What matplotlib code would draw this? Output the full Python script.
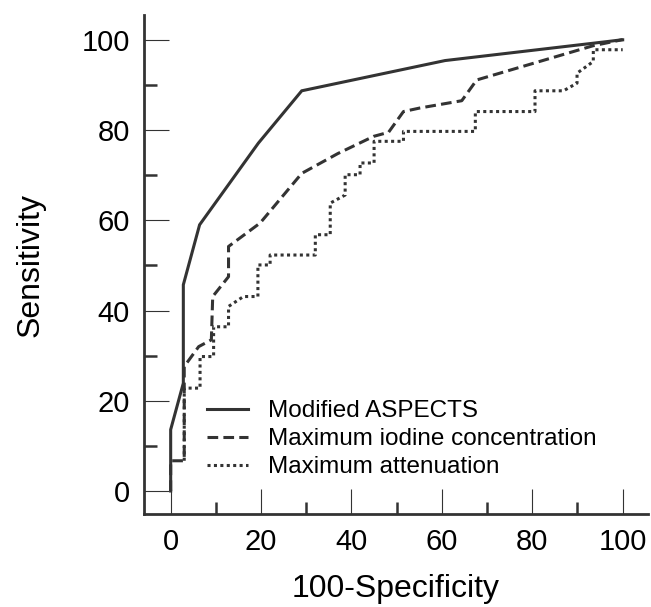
import matplotlib
matplotlib.use("Agg")
import matplotlib.pyplot as plt
from matplotlib.ticker import MultipleLocator

plt.rcParams['font.family'] = ['Liberation Sans', 'DejaVu Sans']

# ROC curves (x = 100-Specificity, y = Sensitivity)
aspects_x = [0, 0, 2.8, 2.8, 6.4, 19.4, 29.0, 60.7, 96.5, 99.8, 100]
aspects_y = [0, 13.6, 23.9, 45.7, 59.0, 77.1, 88.7, 95.4, 99.6, 100, 100]

iodine_x = [0, 0, 3.0, 3.0, 6.2, 9.0, 9.3, 12.8, 12.8, 19.8, 29.0, 37.0, 44.9,
            48.2, 51.5, 55.2, 64.4, 67.7, 93.5, 99.8, 100]
iodine_y = [0, 6.7, 6.7, 27.6, 32.0, 33.5, 43.1, 47.5, 54.2, 59.4, 70.4, 74.8, 78.6,
            79.5, 84.1, 84.9, 86.5, 91.1, 98.7, 100, 100]

atten_x = [3.0, 3.0, 6.5, 6.5, 9.5, 9.5, 12.8, 12.8, 16.1, 19.3, 19.3, 22.0, 22.0,
           32.0, 32.0, 35.3, 35.3, 38.6, 38.6, 41.9, 41.9, 45.0, 45.0, 51.5, 51.5,
           67.4, 67.4, 80.6, 80.6, 86.9, 89.9, 89.9, 93.5, 93.5, 100]
atten_y = [6.7, 22.8, 22.8, 29.8, 29.8, 36.4, 36.4, 40.9, 43.1, 43.1, 50.1, 50.1, 52.3,
           52.3, 56.8, 56.8, 63.8, 65.6, 70.1, 70.1, 72.7, 72.7, 77.5, 77.5, 79.7,
           79.7, 84.1, 84.1, 88.7, 88.7, 90.4, 92.6, 95.2, 97.8, 97.8]

labels = ['Modified ASPECTS', 'Maximum iodine concentration', 'Maximum attenuation']

ink = '#333333'

fig = plt.figure(figsize=(6.51, 6.07), dpi=100)
ax = fig.add_axes([0.2212, 0.1532, 0.7742, 0.8221])

ax.plot(aspects_x, aspects_y, color=ink, lw=2.2, solid_joinstyle='miter', label=labels[0])
ax.plot(iodine_x, iodine_y, color=ink, lw=2.2, linestyle=(0, (3.5, 1.7)), label=labels[1])
ax.plot(atten_x, atten_y, color=ink, lw=2.2, linestyle=(0, (1, 1.1)), label=labels[2])

ax.set_xlim(-5.9, 105.6)
ax.set_ylim(-5.1, 105.5)

ax.xaxis.set_major_locator(MultipleLocator(20))
ax.xaxis.set_minor_locator(MultipleLocator(10))
ax.yaxis.set_major_locator(MultipleLocator(20))
ax.yaxis.set_minor_locator(MultipleLocator(10))

ax.tick_params(which='major', direction='in', length=18, width=0.8, color=ink,
               labelsize=21, pad=10, labelcolor='black')
ax.tick_params(which='minor', direction='in', length=9, width=1.8, color=ink)

for side in ['top', 'right']:
    ax.spines[side].set_visible(False)
for side in ['left', 'bottom']:
    ax.spines[side].set_linewidth(2)
    ax.spines[side].set_color(ink)

ax.set_xlabel('100-Specificity', fontsize=23, labelpad=13)
ax.set_ylabel('Sensitivity', fontsize=23, labelpad=26)

ax.legend(loc='center left', bbox_to_anchor=(0.125, 0.150), frameon=False,
          fontsize=17.5, handlelength=1.7, handletextpad=0.8, labelspacing=0.25,
          borderpad=0, borderaxespad=0)

fig.savefig('out.png', dpi=100)
